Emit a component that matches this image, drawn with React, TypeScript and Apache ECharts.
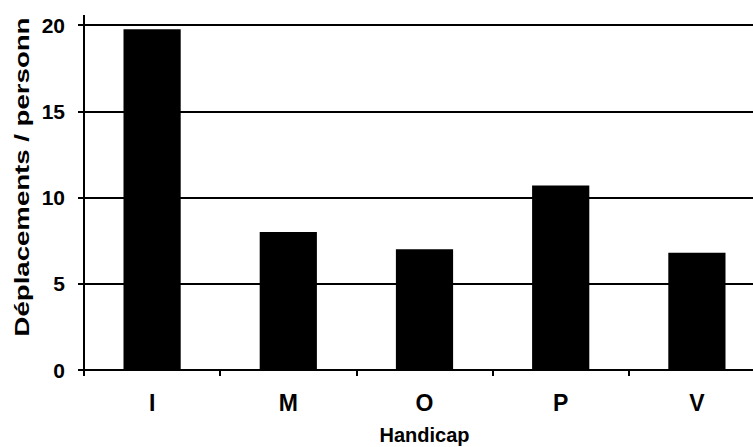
import React, { useEffect, useRef } from "react";
import * as echarts from "echarts";

const categories = ["I", "M", "O", "P", "V"];
const values = [19.75, 8.0, 7.0, 10.7, 6.8];
const yTicks = [0, 5, 10, 15, 20];
const xTitle = "Handicap";
const yTitle = "Déplacements / personn";

const FONT = "'Liberation Sans', Arial, sans-serif";

export default function App() {
  const ref = useRef<HTMLDivElement>(null);
  useEffect(() => {
    if (!ref.current) return;
    const chart = echarts.init(ref.current, undefined, { renderer: "svg" });
    chart.setOption({
      animation: false,
      backgroundColor: "#ffffff",
      grid: {
        left: 84,
        top: 25,
        width: 681,
        height: 345,
        containLabel: false,
        outerBoundsMode: "none",
      },
      xAxis: {
        type: "category",
        data: categories,
        boundaryGap: true,
        name: xTitle,
        nameLocation: "middle",
        nameGap: 55,
        nameTextStyle: { color: "#000", fontFamily: FONT, fontWeight: "bold", fontSize: 20 },
        axisLine: { show: true, lineStyle: { color: "#000", width: 2 } },
        axisTick: { show: true, length: 6, lineStyle: { color: "#000", width: 2 } },
        axisLabel: { color: "#000", fontFamily: FONT, fontWeight: "bold", fontSize: 23, margin: 21 },
        splitLine: { show: false },
      },
      yAxis: {
        type: "value",
        min: yTicks[0],
        max: yTicks[yTicks.length - 1],
        interval: 5,
        axisLine: { show: true, lineStyle: { color: "#000", width: 2 } },
        axisTick: { show: true, length: 6, lineStyle: { color: "#000", width: 2 } },
        axisLabel: { color: "#000", fontFamily: FONT, fontWeight: "bold", fontSize: 21, margin: 19 },
        splitLine: { show: true, lineStyle: { color: "#000", width: 2 } },
      },
      series: [
        {
          type: "bar",
          data: values,
          barWidth: "42%",
          itemStyle: { color: "#000" },
        },
      ],
      graphic: [
        {
          type: "line",
          shape: { x1: 84, y1: 15, x2: 84, y2: 26 },
          style: { stroke: "#000", lineWidth: 2 },
        },
        {
          type: "text",
          x: 22,
          y: 177,
          rotation: Math.PI / 2,
          scaleX: 1.38,
          style: {
            text: yTitle,
            fill: "#000",
            font: `bold 20px ${FONT}`,
            textAlign: "center",
            textVerticalAlign: "middle",
          },
        },
      ],
    });
    return () => chart.dispose();
  }, []);
  return <div ref={ref} style={{ width: 753, height: 447, position: "absolute", left: 0, top: 0 }} />;
}
